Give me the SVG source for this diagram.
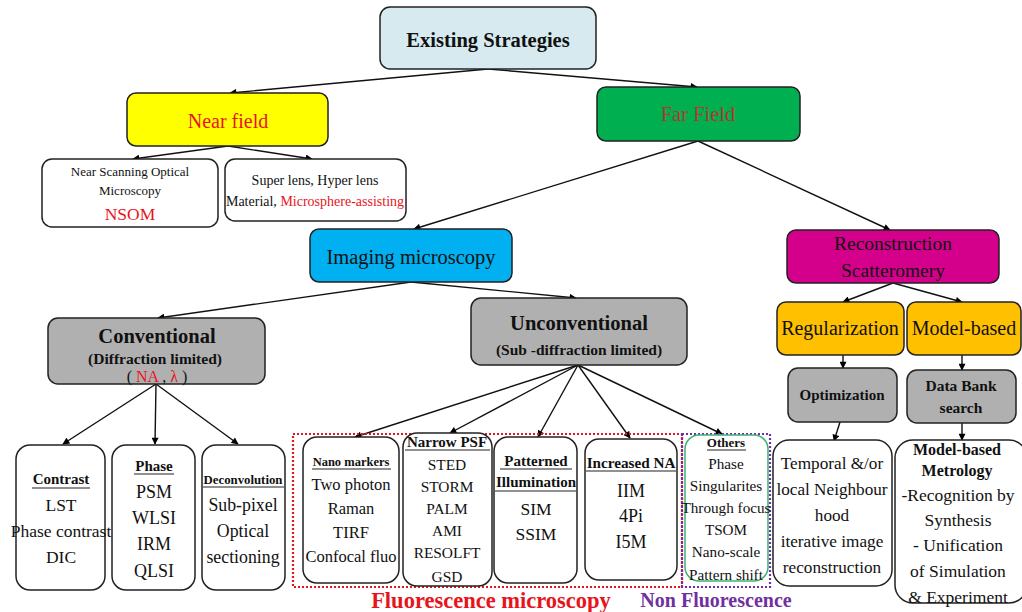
<svg xmlns="http://www.w3.org/2000/svg" width="1022" height="612" viewBox="0 0 1022 612">
<defs>
<marker id="ah" viewBox="0 0 10 10" refX="9" refY="5" markerWidth="9" markerHeight="7" markerUnits="userSpaceOnUse" orient="auto">
<path d="M0,0 L10,5 L0,10 z" fill="#000"/>
</marker>
<style>
text{font-family:"Liberation Serif","Times New Roman",serif;text-anchor:middle;fill:#111}
.b{font-weight:bold}
.box{stroke:#222;stroke-width:1.5}
.w{fill:#fff}
.g{fill:#b0b0b0}
.ul{stroke:#222;stroke-width:1.2}
.c line{stroke:#111;stroke-width:1.4;fill:none;marker-end:url(#ah)}
</style>
</defs>
<rect width="1022" height="612" fill="#fff"/>

<g class="c" id="connectors">
<line x1="488" y1="69" x2="230" y2="93"/>
<line x1="488" y1="69" x2="697" y2="87"/>
<line x1="228" y1="146" x2="133" y2="159"/>
<line x1="228" y1="146" x2="312" y2="159"/>
<line x1="698" y1="141" x2="414" y2="229"/>
<line x1="698" y1="141" x2="890" y2="230"/>
<line x1="411" y1="282" x2="158" y2="318"/>
<line x1="411" y1="282" x2="576" y2="298"/>
<line x1="156" y1="384" x2="63" y2="444"/>
<line x1="156" y1="384" x2="155" y2="444"/>
<line x1="156" y1="384" x2="238" y2="444"/>
<line x1="578" y1="365" x2="355" y2="437"/>
<line x1="578" y1="365" x2="450" y2="433"/>
<line x1="578" y1="365" x2="538" y2="437"/>
<line x1="578" y1="365" x2="630" y2="438"/>
<line x1="578" y1="365" x2="722" y2="434"/>
<line x1="893" y1="283" x2="843" y2="302"/>
<line x1="893" y1="283" x2="962" y2="302"/>
<line x1="843" y1="355" x2="843" y2="368"/>
<line x1="962" y1="355" x2="962" y2="370"/>
<line x1="840" y1="422" x2="834" y2="441"/>
<line x1="962" y1="423" x2="962" y2="440"/>
</g>

<g id="existing">
<rect class="box" x="380" y="7" width="216" height="62" rx="10" fill="#d6eaf0"/>
<text class="b" x="488" y="47" font-size="20.5">Existing Strategies</text>
</g>

<g id="near-field">
<rect class="box" x="127" y="93" width="201" height="53" rx="9" fill="#ffff00"/>
<text x="228" y="128" font-size="20" style="fill:#e8141c">Near field</text>
</g>

<g id="nsom">
<rect class="box w" x="42" y="159" width="176" height="68" rx="10"/>
<text x="130" y="176" font-size="13">Near Scanning Optical</text>
<text x="130" y="195" font-size="13">Microscopy</text>
<text x="130" y="220" font-size="17.5" style="fill:#e8141c">NSOM</text>
</g>

<g id="superlens">
<rect class="box w" x="225" y="159" width="181" height="62" rx="10"/>
<text x="315" y="185" font-size="14">Super lens, Hyper lens</text>
<text x="315" y="206" font-size="14">Material, <tspan style="fill:#e8141c">Microsphere-assisting</tspan></text>
</g>

<g id="far-field">
<rect class="box" x="597" y="87" width="203" height="54" rx="9" fill="#00b050"/>
<text x="698" y="121" font-size="20.5" style="fill:#b03a2e">Far Field</text>
</g>

<g id="imaging">
<rect class="box" x="310" y="229" width="202" height="53" rx="9" fill="#00b0f0"/>
<text x="411" y="264" font-size="20.5">Imaging microscopy</text>
</g>

<g id="reconstruction">
<rect class="box" x="787" y="230" width="212" height="53" rx="9" fill="#d4008c"/>
<text x="893" y="250" font-size="19.5">Reconstruction</text>
<text x="893" y="277" font-size="19.5">Scatteromery</text>
</g>

<g id="conventional">
<rect class="box g" x="48" y="318" width="217" height="66" rx="10"/>
<text class="b" x="157" y="343" font-size="20.5">Conventional</text>
<text class="b" x="155" y="364" font-size="15.5">(Diffraction  limited)</text>
<text x="157" y="382" font-size="16">( <tspan style="fill:#e8141c">NA</tspan> , <tspan style="fill:#e8141c">λ</tspan> )</text>
</g>

<g id="unconventional">
<rect class="box g" x="471" y="298" width="216" height="67" rx="10"/>
<text class="b" x="579" y="330" font-size="20.5">Unconventional</text>
<text class="b" x="579" y="355" font-size="15.5">(Sub -diffraction  limited)</text>
</g>

<g id="contrast">
<rect class="box w" x="16" y="445" width="89" height="145" rx="14"/>
<text class="b" x="61" y="484" font-size="15">Contrast</text>
<line class="ul" x1="32" y1="488" x2="90" y2="488"/>
<text x="61" y="511" font-size="17.5">LST</text>
<text x="61" y="537" font-size="17.5">Phase contrast</text>
<text x="61" y="563" font-size="17.5">DIC</text>
</g>

<g id="phase">
<rect class="box w" x="112" y="445" width="83" height="145" rx="14"/>
<text class="b" x="154" y="471" font-size="15">Phase</text>
<line class="ul" x1="134" y1="474" x2="174" y2="474"/>
<text x="154" y="498" font-size="18">PSM</text>
<text x="154" y="524" font-size="18">WLSI</text>
<text x="154" y="550" font-size="18">IRM</text>
<text x="154" y="577" font-size="18">QLSI</text>
</g>

<g id="deconvolution">
<rect class="box w" x="202" y="445" width="83" height="145" rx="14"/>
<text class="b" x="243" y="484" font-size="12.8">Deconvolution</text>
<line class="ul" x1="203" y1="487" x2="284" y2="487"/>
<text x="243" y="511" font-size="17.8">Sub-pixel</text>
<text x="243" y="537" font-size="17.8">Optical</text>
<text x="243" y="563" font-size="17.8">sectioning</text>
</g>

<g id="fluo-group">
<rect x="293" y="434" width="389" height="153" fill="none" stroke="#e8141c" stroke-width="2.2" stroke-dasharray="2,2"/>
<rect x="682" y="434" width="88" height="153" fill="none" stroke="#7030a0" stroke-width="2.2" stroke-dasharray="2,2"/>
</g>

<g id="nano-markers">
<rect class="box w" x="303" y="437" width="96" height="146" rx="14"/>
<text class="b" x="351" y="466" font-size="12.5">Nano markers</text>
<line class="ul" x1="312" y1="469" x2="391" y2="469"/>
<text x="351" y="490" font-size="16.5">Two photon</text>
<text x="351" y="514" font-size="16.5">Raman</text>
<text x="351" y="538" font-size="16.5">TIRF</text>
<text x="351" y="562" font-size="16.5">Confocal fluo</text>
</g>

<g id="narrow-psf">
<rect class="box w" x="403" y="433" width="89" height="153" rx="14"/>
<text class="b" x="447" y="447" font-size="15">Narrow PSF</text>
<line class="ul" x1="405" y1="450" x2="490" y2="450"/>
<text x="447" y="470" font-size="15.4">STED</text>
<text x="447" y="492" font-size="15.4">STORM</text>
<text x="447" y="514" font-size="15.4">PALM</text>
<text x="447" y="536" font-size="15.4">AMI</text>
<text x="447" y="558" font-size="15.4">RESOLFT</text>
<text x="447" y="582" font-size="15.4">GSD</text>
</g>

<g id="patterned">
<rect class="box w" x="494" y="437" width="83" height="146" rx="14"/>
<text class="b" x="536" y="466" font-size="15">Patterned</text>
<line class="ul" x1="500" y1="469" x2="572" y2="469"/>
<text class="b" x="536" y="487" font-size="15">Illumination</text>
<line class="ul" x1="495" y1="491" x2="576" y2="491"/>
<text x="536" y="515" font-size="17.5">SIM</text>
<text x="536" y="540" font-size="17.5">SSIM</text>
</g>

<g id="increased-na">
<rect class="box w" x="585" y="439" width="92" height="141" rx="14"/>
<text class="b" x="631" y="468" font-size="15.2">Increased NA</text>
<line class="ul" x1="586" y1="471" x2="676" y2="471"/>
<text x="631" y="497" font-size="18">IIM</text>
<text x="631" y="522" font-size="18">4Pi</text>
<text x="631" y="548" font-size="18">I5M</text>
</g>

<g id="others">
<rect x="685" y="435" width="83" height="146" rx="14" fill="#fff" stroke="#3cb371" stroke-width="1.5"/>
<text class="b" x="726" y="447" font-size="13">Others</text>
<line class="ul" x1="707" y1="450" x2="746" y2="450"/>
<text x="726" y="469" font-size="15.2">Phase</text>
<text x="726" y="491" font-size="15.2">Singularites</text>
<text x="726" y="513" font-size="15.2">Through focus</text>
<text x="726" y="535" font-size="15.2">TSOM</text>
<text x="726" y="557" font-size="15.2">Nano-scale</text>
<text x="726" y="580" font-size="15.2">Pattern shift</text>
</g>

<g id="labels">
<text class="b" x="491" y="608" font-size="22.5" style="fill:#e8141c">Fluorescence microscopy</text>
<text class="b" x="716" y="607" font-size="20" style="fill:#7030a0">Non Fluorescence</text>
</g>

<g id="regularization">
<rect class="box" x="777" y="302" width="127" height="53" rx="9" fill="#ffc000"/>
<text x="840" y="335" font-size="20">Regularization</text>
</g>

<g id="model-based">
<rect class="box" x="907" y="302" width="114" height="53" rx="9" fill="#ffc000"/>
<text x="964" y="335" font-size="20">Model-based</text>
</g>

<g id="optimization">
<rect class="box g" x="788" y="368" width="109" height="54" rx="10"/>
<text class="b" x="842" y="400" font-size="15">Optimization</text>
</g>

<g id="databank">
<rect class="box g" x="907" y="370" width="109" height="53" rx="10"/>
<text class="b" x="961" y="391" font-size="15.5">Data Bank</text>
<text class="b" x="961" y="413" font-size="15.5">search</text>
</g>

<g id="temporal">
<rect class="box w" x="773" y="440" width="119" height="146" rx="16"/>
<text x="832" y="469" font-size="17.2">Temporal &amp;/or</text>
<text x="832" y="495" font-size="17.2">local Neighbour</text>
<text x="832" y="521" font-size="17.2">hood</text>
<text x="832" y="547" font-size="17.2">iterative  image</text>
<text x="832" y="573" font-size="17.2">reconstruction</text>
</g>

<g id="metrology">
<rect class="box w" x="895" y="440" width="132" height="163" rx="18"/>
<text class="b" x="957" y="455" font-size="16">Model-based</text>
<text class="b" x="957" y="476" font-size="16">Metrology</text>
<text x="958" y="501" font-size="17.5">-Recognition  by</text>
<text x="958" y="526" font-size="17.5">Synthesis</text>
<text x="958" y="551" font-size="17.5">- Unification</text>
<text x="958" y="577" font-size="17.5">of Simulation</text>
<text x="958" y="603" font-size="17.5">&amp; Experiment</text>
</g>
</svg>
